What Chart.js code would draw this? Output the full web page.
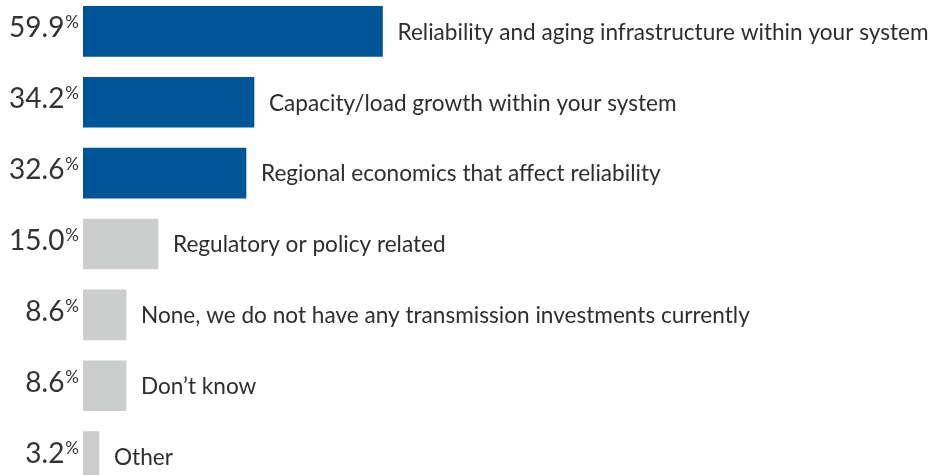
<!DOCTYPE html>
<html lang="en">
<head>
  <meta charset="UTF-8">
  <title>Transmission investment drivers</title>
  <script src="https://cdn.jsdelivr.net/npm/chart.js"></script>
  <style>
    html, body {
      margin: 0;
      padding: 0;
      background: #ffffff;
      overflow: hidden;
    }

    #chartBox {
      position: absolute;
      left: 0;
      top: -4px;
      width: 930px;
      height: 496px;
    }
  </style>
</head>
<body>

  <div id="chartBox">
    <canvas id="driversChart"></canvas>
  </div>

  <script>
    const categories = [
      'Reliability and aging infrastructure within your system',
      'Capacity/load growth within your system',
      'Regional economics that affect reliability',
      'Regulatory or policy related',
      'None, we do not have any transmission investments currently',
      'Don\u2019t know',
      'Other'
    ];
    const values = [59.9, 34.2, 32.6, 15.0, 8.6, 8.6, 3.2];
    const valueLabels = ['59.9', '34.2', '32.6', '15.0', '8.6', '8.6', '3.2'];

    const blue = '#005596';
    const grey = '#cccdcd';
    const barColors = values.map((v, i) => i < 3 ? blue : grey);

    // labels: value + superscript % left of the bar, category right of it
    const labelPlugin = {
      id: 'barLabels',
      afterDatasetsDraw(chart) {
        const c = chart.ctx;
        const meta = chart.getDatasetMeta(0);
        c.save();
        meta.data.forEach((bar, i) => {
          const y = bar.y;

          c.fillStyle = '#333333';
          c.font = '17px Lato';
          c.textAlign = 'right';
          c.textBaseline = 'alphabetic';
          const pctW = c.measureText('%').width;
          c.fillText('%', 79, y - 3);

          c.font = '28px Lato';
          c.fillText(valueLabels[i], 79 - pctW - 1, y + 6);

          c.fillStyle = '#2e2e2e';
          c.font = '22.6px Lato';
          c.textAlign = 'left';
          c.textBaseline = 'middle';
          c.fillText(categories[i], bar.x + 15, y + 1);
        });
        c.restore();
      }
    };

    const ctx = document.getElementById('driversChart').getContext('2d');
    new Chart(ctx, {
      type: 'bar',
      data: {
        labels: categories,
        datasets: [{
          data: values,
          backgroundColor: barColors,
          borderWidth: 0,
          barThickness: 50
        }]
      },
      options: {
        indexAxis: 'y',
        responsive: true,
        maintainAspectRatio: false,
        animation: false,
        layout: { padding: { left: 83, right: 0, top: 0, bottom: 0 } },
        scales: {
          x: { display: false, min: 0, max: 169.4 },
          y: { display: false }
        },
        plugins: {
          legend: { display: false },
          tooltip: { enabled: false }
        }
      },
      plugins: [labelPlugin]
    });
  </script>
</body>
</html>
